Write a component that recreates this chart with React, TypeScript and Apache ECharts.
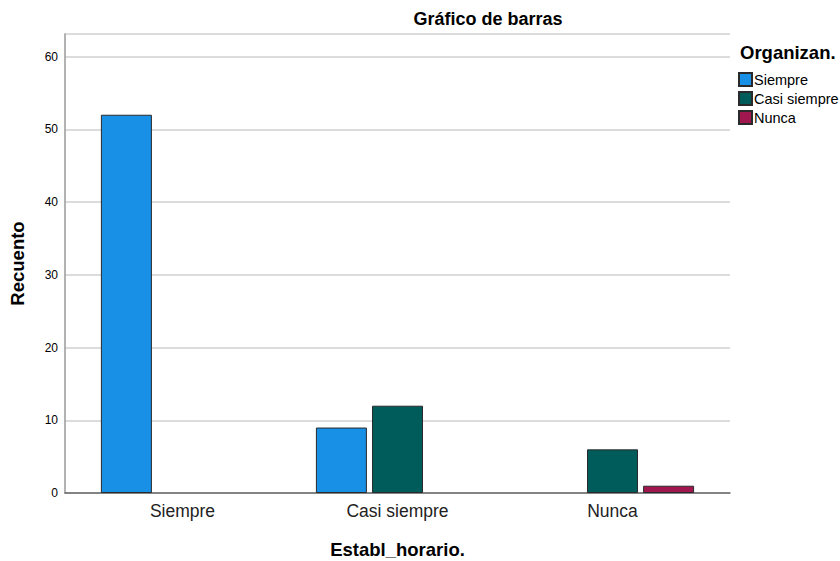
import React, { useEffect, useRef } from "react";
import * as echarts from "echarts";

const categories = ["Siempre", "Casi siempre", "Nunca"];
const seriesNames = ["Siempre", "Casi siempre", "Nunca"];
const siempreValues = [52, 9, null];
const casiValues = [null, 12, 6];
const nuncaValues = [null, null, 1];
const yTicks = [0, 10, 20, 30, 40, 50, 60];

const colors = ["#1790e6", "#005c5a", "#a0174f"];
const FONT = "Liberation Sans, Arial, sans-serif";

export default function App() {
  const ref = useRef<HTMLDivElement>(null);
  useEffect(() => {
    if (!ref.current) return;
    const chart = echarts.init(ref.current, null, { renderer: "svg" });
    const data = [siempreValues, casiValues, nuncaValues];
    chart.setOption({
      animation: false,
      backgroundColor: "#ffffff",
      textStyle: { fontFamily: FONT },
      title: [
        {
          text: "Gráfico de barras",
          left: 483,
          top: 5,
          textAlign: "center",
          textStyle: { fontSize: 18, fontWeight: "bold", color: "#000", fontFamily: FONT },
        },
        {
          text: "Organizan.",
          left: 735,
          top: 38,
          textStyle: { fontSize: 18.5, fontWeight: "bold", color: "#000", fontFamily: FONT },
        },
      ],
      legend: {
        orient: "vertical",
        left: 733,
        top: 67,
        itemWidth: 13,
        itemHeight: 13,
        itemGap: 4,
        icon: "rect",
        textStyle: { fontSize: 14.5, lineHeight: 15, color: "#000", fontFamily: FONT, padding: [0, 0, 0, -3] },
        data: seriesNames,
      },
      grid: [
        { left: 65, right: 110, top: 34, bottom: 68, outerBoundsMode: "none" },
        { left: 75, right: 120, top: 34, bottom: 68, outerBoundsMode: "none" },
      ],
      xAxis: [
        {
          type: "category",
          gridIndex: 0,
          data: categories,
          axisLine: { lineStyle: { color: "#666", width: 1.5 } },
          axisTick: { show: false },
          axisLabel: { show: false },
          name: "Establ_horario.",
          nameLocation: "middle",
          nameGap: 47,
          nameTextStyle: { fontSize: 18.5, fontWeight: "bold", color: "#000", fontFamily: FONT },
        },
        {
          type: "category",
          gridIndex: 1,
          data: categories,
          axisLine: { show: false },
          axisTick: { show: false },
          axisLabel: { fontSize: 17.5, color: "#222", margin: 9, fontFamily: FONT },
        },
      ],
      yAxis: [
        {
          type: "value",
          gridIndex: 0,
          min: 0,
          max: 63.1,
          interval: 10,
          axisLine: { show: true, lineStyle: { color: "#999", width: 1.5 } },
          axisTick: { show: false },
          axisLabel: {
            fontSize: 12,
            color: "#000",
            margin: 7,
            fontFamily: FONT,
            showMaxLabel: false,
            formatter: (v: number) => (yTicks.includes(v) ? String(v) : ""),
          },
          splitLine: { lineStyle: { color: "#d0d0d0", width: 1.5 } },
          name: "Recuento",
          nameLocation: "middle",
          nameGap: 38,
          nameTextStyle: { fontSize: 18.5, fontWeight: "bold", color: "#000", fontFamily: FONT },
        },
        {
          type: "value",
          gridIndex: 1,
          min: 0,
          max: 63.1,
          interval: 10,
          show: false,
        },
      ],
      series: seriesNames.map((name, i) => ({
        name,
        type: "bar",
        xAxisIndex: 1,
        yAxisIndex: 1,
        data: data[i],
        barWidth: 51,
        barGap: "10%",
        itemStyle: { color: colors[i], borderColor: "#2a2a2a", borderWidth: 1 },
      })),
    });
    return () => chart.dispose();
  }, []);
  return <div ref={ref} style={{ width: 840, height: 561, position: "absolute", left: 0, top: 0 }} />;
}
